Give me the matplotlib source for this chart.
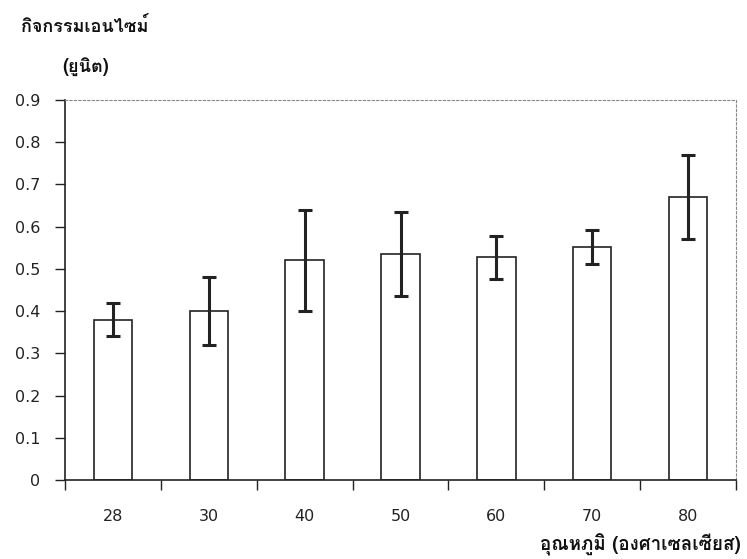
import matplotlib
matplotlib.use("Agg")
import matplotlib.pyplot as plt
import numpy as np

categories = ["28", "30", "40", "50", "60", "70", "80"]
activity = [0.38, 0.40, 0.52, 0.535, 0.527, 0.552, 0.67]
errors = [0.04, 0.08, 0.12, 0.10, 0.052, 0.04, 0.10]
yticks = [0, 0.1, 0.2, 0.3, 0.4, 0.5, 0.6, 0.7, 0.8, 0.9]
ytick_labels = ["0", "0.1", "0.2", "0.3", "0.4", "0.5", "0.6", "0.7", "0.8", "0.9"]
title_text = "กิจกรรมเอนไซม์"
unit_text = "(ยูนิต)"
xlabel_text = "อุณหภูมิ (องศาเซลเซียส)"

thai = ['Loma', 'DejaVu Sans']
plt.rcParams['font.family'] = ['DejaVu Sans', 'Loma']

fig = plt.figure(figsize=(7.47, 5.59), dpi=100)
ax = fig.add_axes([65/747, 1-480/559, (736-65)/747, (480-100)/559])

x = np.arange(len(categories))
ax.bar(x, activity, width=0.4, color='white', edgecolor='#222222', linewidth=1.2, zorder=2)
ax.errorbar(x, activity, yerr=errors, fmt='none', ecolor='#222222', elinewidth=2.2,
            capsize=5, capthick=2.2, zorder=3)

ax.set_xlim(-0.5, len(categories) - 0.5)
ax.set_ylim(0, 0.9)
ax.set_yticks(yticks)
ax.set_yticklabels(ytick_labels, family='DejaVu Sans')
ax.set_xticks(x)
ax.set_xticklabels(categories, family='DejaVu Sans')
ax.tick_params(axis='x', which='major', length=0, pad=21, labelsize=11.5, colors='#222222')
ax.set_xticks(np.arange(-0.5, len(categories)), minor=True)
ax.tick_params(axis='x', which='minor', length=7, width=1, direction='out', color='#222222')
ax.tick_params(axis='y', length=7, width=1, direction='out', pad=11, labelsize=11.5, colors='#222222')

for s in ['left', 'bottom']:
    ax.spines[s].set_color('#222222')
    ax.spines[s].set_linewidth(1.2)
for s in ['top', 'right']:
    ax.spines[s].set_color('#888888')
    ax.spines[s].set_linestyle((0, (2, 2)))
    ax.spines[s].set_linewidth(0.8)

fig.text(21/747, 1-32/559, title_text, family=thai, fontsize=13, fontweight='bold',
         ha='left', va='baseline', color='#111111')
fig.text(62/747, 1-72/559, unit_text, family=thai, fontsize=13, fontweight='bold',
         ha='left', va='baseline', color='#111111')
fig.text(741/747, 1-551/559, xlabel_text, family=thai, fontsize=13.5, fontweight='bold',
         ha='right', va='baseline', color='#111111')

fig.savefig("out.png", dpi=100)
